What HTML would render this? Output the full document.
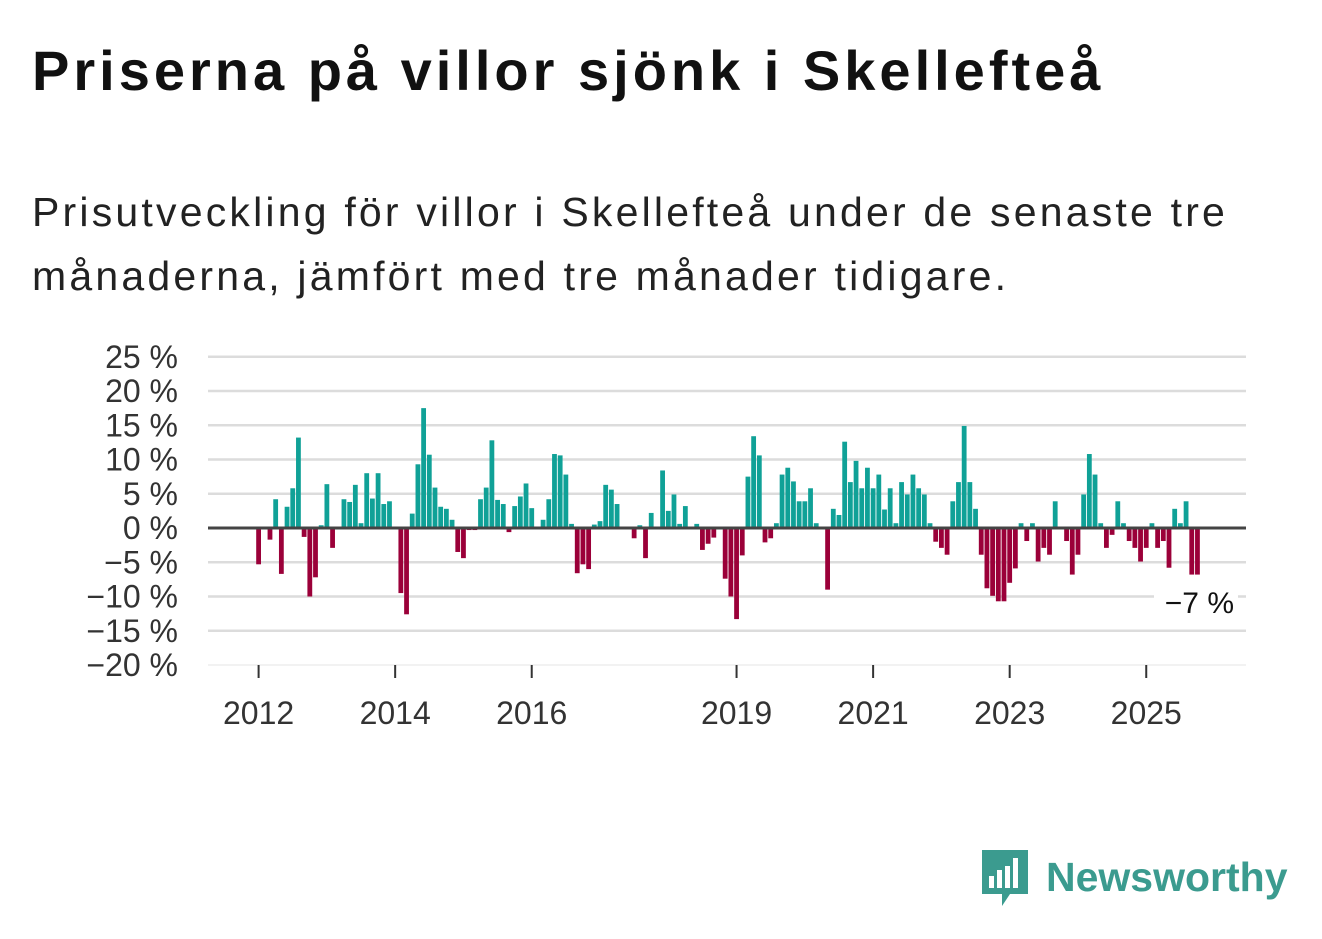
<!DOCTYPE html>
<html><head><meta charset="utf-8"><style>
body{margin:0;width:1322px;height:939px;background:#fff;font-family:"Liberation Sans",sans-serif;overflow:hidden}
#title{position:absolute;left:32px;top:38px;font-size:56px;font-weight:bold;color:#111;margin:0;letter-spacing:4px;white-space:nowrap}
#sub{position:absolute;left:32px;top:180px;font-size:41px;line-height:64px;color:#222;width:1280px;letter-spacing:3.2px;white-space:nowrap}
svg{position:absolute;left:0;top:0}
#logo{position:absolute;left:980px;top:846px;display:flex;align-items:center}
</style></head><body>
<h1 id="title">Priserna på villor sjönk i Skellefteå</h1>
<div id="sub">Prisutveckling för villor i Skellefteå under de senaste tre<br>månaderna, jämfört med tre månader tidigare.</div>
<svg id="chart" width="1322" height="939"></svg>
<div id="logo">
<svg width="50" height="62" style="position:static" viewBox="0 0 50 62"><path d="M2 4h46v44H30l-8 12v-12H2z" fill="#3b9b8f"/><rect x="9" y="30" width="5" height="12" fill="#fff"/><rect x="17" y="24" width="5" height="18" fill="#fff"/><rect x="25" y="20" width="5" height="22" fill="#fff"/><rect x="33" y="12" width="5" height="30" fill="#fff"/></svg>
<span style="font-size:41px;font-weight:bold;color:#3b9b8f;margin-left:16px">Newsworthy</span></div>
<script>
const values=[-5.3,0,-1.7,4.2,-6.7,3.1,5.8,13.2,-1.3,-10,-7.2,0.4,6.4,-2.9,0,4.2,3.8,6.3,0.7,8,4.3,8,3.5,3.9,0,-9.5,-12.6,2.1,9.3,17.5,10.7,5.9,3.1,2.8,1.2,-3.5,-4.4,-0.3,-0.3,4.2,5.9,12.8,4.1,3.5,-0.6,3.2,4.6,6.5,2.9,0,1.2,4.2,10.8,10.6,7.8,0.6,-6.6,-5.3,-6,0.5,1,6.3,5.6,3.5,0,0,-1.5,0.4,-4.4,2.2,0,8.4,2.5,4.9,0.6,3.2,0,0.6,-3.2,-2.3,-1.4,0,-7.4,-10,-13.3,-4,7.5,13.4,10.6,-2.1,-1.5,0.7,7.8,8.8,6.8,3.9,3.9,5.8,0.7,0,-9,2.8,1.9,12.6,6.7,9.8,5.8,8.8,5.8,7.8,2.7,5.8,0.7,6.7,4.9,7.8,5.8,4.9,0.7,-2,-2.9,-3.9,3.9,6.7,14.9,6.7,2.8,-3.9,-8.8,-9.9,-10.7,-10.7,-8,-5.9,0.7,-1.9,0.7,-4.9,-2.9,-3.9,3.9,0,-1.9,-6.8,-3.9,4.9,10.8,7.8,0.7,-2.9,-1,3.9,0.7,-1.9,-2.9,-4.9,-2.9,0.7,-2.9,-1.9,-5.8,2.8,0.7,3.9,-6.8,-6.8];
const yTicks=[25,20,15,10,5,0,-5,-10,-15,-20];
const xTickYears=[2012,2014,2016,2019,2021,2023,2025];
const startYear=2012;
const NS="http://www.w3.org/2000/svg";
const svg=document.getElementById('chart');
const y=v=>528-v*6.85;
const x=m=>258.6+m*5.69;
function mk(t,a){const e=document.createElementNS(NS,t);for(const k in a)e.setAttribute(k,a[k]);svg.appendChild(e);return e;}
yTicks.forEach(t=>{
 if(t!==0){const l=mk('line',{x1:208,x2:1246,y1:y(t),y2:y(t),stroke:t===-20?'#e6e6e6':'#dcdcdc','stroke-width':t===-20?1:2.5});
 
 }
 const tx=mk('text',{x:178,y:y(t)+11,'text-anchor':'end','font-size':32,fill:'#333'});
 tx.textContent=(t<0?'\u2212'+(-t):t)+' %';
 
 
});
xTickYears.forEach(yr=>{
 const xx=x((yr-startYear)*12);
 const l=mk('line',{x1:xx,x2:xx,y1:665,y2:678,stroke:'#333','stroke-width':2});
 
 
 const tx=mk('text',{x:xx,y:724,'text-anchor':'middle','font-size':32,fill:'#333'});
 tx.textContent=yr;
 
 
});
values.forEach((v,i)=>{
 if(v===0)return;
 const r=mk('rect',{x:x(i)-2.4,width:4.8,y:Math.min(y(v),y(0)),height:Math.abs(y(v)-y(0)),fill:v>0?'#10a197':'#9b0039'});
 
 
});
const z=mk('line',{x1:208,x2:1246,y1:y(0),y2:y(0),stroke:'#444','stroke-width':3});


const bg=mk('rect',{x:1154,y:584,width:84,height:36,fill:'#fff'});


const an=mk('text',{x:1234,y:613,'text-anchor':'end','font-size':30,fill:'#111'});
an.textContent='\u22127 %';


</script>
</body></html>
